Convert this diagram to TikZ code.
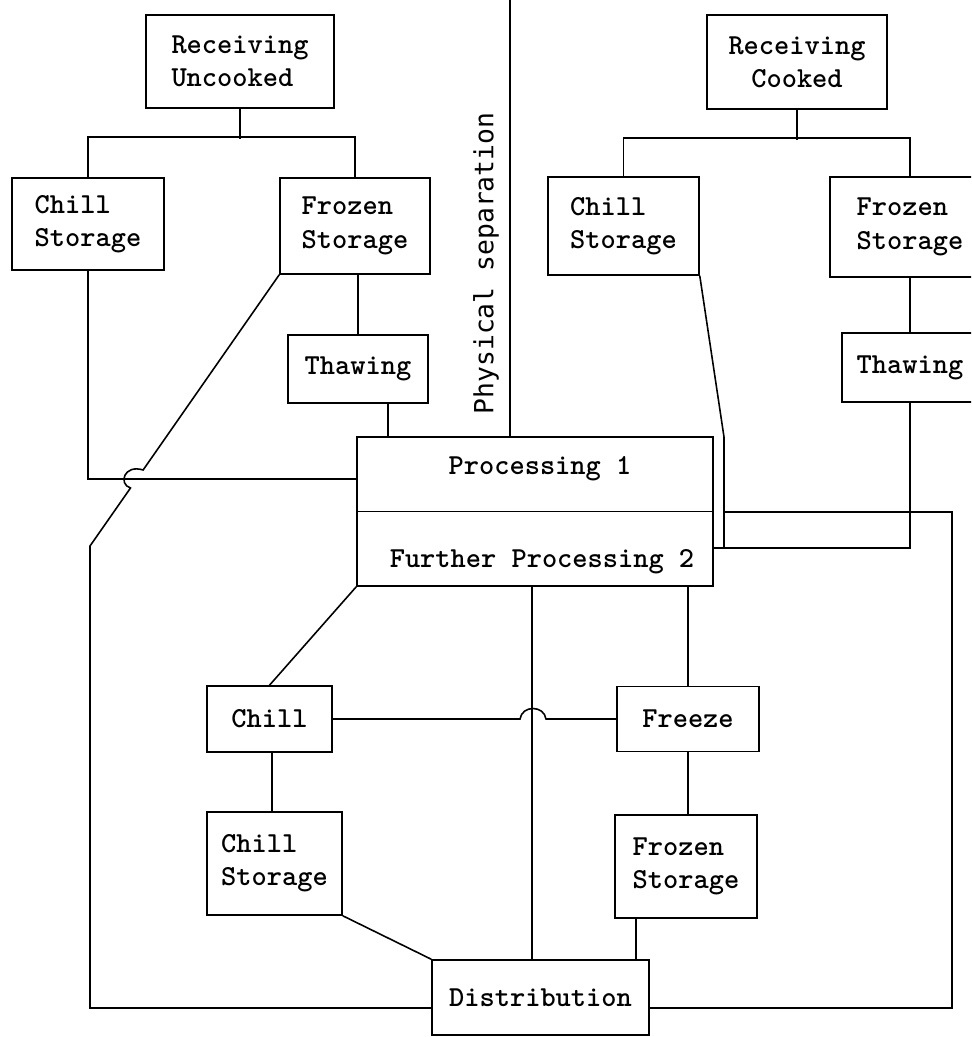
\documentclass[tikz,border=0pt]{standalone}
\usepackage{fontspec}
\newfontfamily\sepfont{DejaVu Sans Mono}

\begin{document}
\begin{tikzpicture}[x=0.02cm,y=-0.02cm,line width=0.9pt,line join=miter]
  \tikzstyle{stage}=[draw,inner sep=0pt,align=left,
    font=\ttfamily\bfseries\fontsize{16.5}{19}\selectfont]
  \tikzstyle{plain}=[inner sep=0pt,font=\ttfamily\bfseries\fontsize{16.5}{19}\selectfont]
  \useasboundingbox (0,0) rectangle (971,1037);
  \clip (0,0) rectangle (971,1037);

  \node[stage,minimum width=3.76cm,minimum height=1.86cm] (recU) at (240,61.5) {Receiving\\Uncooked};
  \node[stage,align=center,minimum width=3.6cm,minimum height=1.88cm] (recC) at (797,62) {Receiving\\Cooked};
  \node[stage,minimum width=3.04cm,minimum height=1.84cm] (chillU) at (88,224) {Chill\\Storage};
  \node[stage,minimum width=3cm,minimum height=1.92cm] (frozU) at (355,226) {Frozen\\Storage};
  \node[stage,minimum width=3.02cm,minimum height=1.96cm] (chillC) at (623.5,226) {Chill\\Storage};
  \node[stage,minimum width=3.2cm,minimum height=2cm] (frozC) at (910,227) {Frozen\\Storage};
  \node[stage,minimum width=2.8cm,minimum height=1.36cm] (thawU) at (358,369) {Thawing};
  \node[stage,minimum width=2.72cm,minimum height=1.38cm] (thawC) at (910,367.5) {Thawing};
  \node[stage,minimum width=7.12cm,minimum height=2.98cm] (proc) at (535,511.5) {};
  \node[plain] (proc1) at (540,469) {Processing 1};
  \node[plain] (proc2) at (542,562) {Further Processing 2};
  \node[stage,minimum width=2.5cm,minimum height=1.32cm] (chill) at (269.5,719) {Chill};
  \node[stage,minimum width=2.84cm,minimum height=1.3cm] (freeze) at (688,719) {Freeze};
  \node[stage,minimum width=2.7cm,minimum height=2.06cm] (chillS) at (274.5,863.5) {Chill\\Storage};
  \node[stage,minimum width=2.84cm,minimum height=2.06cm] (frozS) at (686,866.5) {Frozen\\Storage};
  \node[stage,minimum width=4.34cm,minimum height=1.5cm] (dist) at (540.5,997.5) {Distribution};
  \node[inner sep=0pt,rotate=90,font=\sepfont\fontsize{15}{18}\selectfont] (sep) at (486,263.5) {Physical separation};

  \coordinate (sepTop) at (510,0);
  \coordinate (hopA) at (143.1,470);
  \coordinate (hopB) at (130.5,488);
  \coordinate (bendL) at (90,546);
  \coordinate (cornL) at (90,1008);
  \coordinate (jc) at (724,437);
  \coordinate (jcR) at (952,512);
  \coordinate (cornR) at (952,1008);

  \draw (proc.west) -- (proc.east);
  \draw (sepTop) -- (sepTop |- proc.north);

  \draw (recU.south) -- ++(0,30);
  \draw (chillU.north) -- ++(0,-40) -| (frozU.north);
  \draw (recC.south) -- ++(0,30);
  \draw (chillC.north) -- ++(0,-38) -| (frozC.north);

  \draw (thawU.north |- frozU.south) -- (thawU.north);
  \draw ([xshift=6mm]thawU.south) -- ([xshift=6mm]thawU.south |- proc.north);
  \draw (chillU.south) |- (proc.west |- 0,479);
  \draw (frozU.south west) -- (hopA) .. controls (124,464) and (118,484) .. (hopB)
    -- (bendL) -- (cornL) -- (dist.west |- cornL);

  \draw (frozC.south) -- (thawC.north);
  \draw (chillC.south east) -- (jc) -- (jc |- 0,548) -- (proc.east |- 0,548);
  \draw (thawC.south) -- (thawC.south |- 0,548) -- (jc |- 0,548);
  \draw (jc |- jcR) -- (jcR) -- (cornR) -- (dist.east |- cornR);

  \draw (proc.south west) -- (chill.north);
  \draw (proc.south -| 532,0) -- (dist.north -| 532,0);
  \draw (freeze.north |- proc.south) -- (freeze.north);
  \draw (chill.east) -- (520,719) .. controls (522,705) and (544,705) .. (546,719) -- (freeze.west);
  \draw (chill.south -| 272,0) -- (chillS.north -| 272,0);
  \draw (chillS.south east) -- (dist.north west);
  \draw (freeze.south) -- (frozS.north -| freeze.south);
  \draw (frozS.south -| 636,0) -- (dist.north -| 636,0);
\end{tikzpicture}
\end{document}
